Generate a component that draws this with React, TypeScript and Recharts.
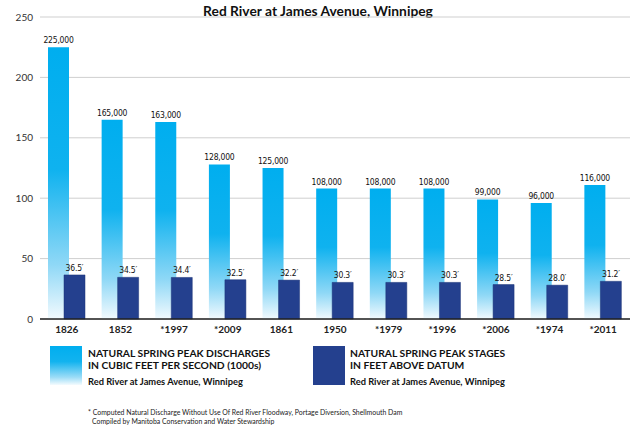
import React from 'react';
import { BarChart, Bar, XAxis, YAxis, CartesianGrid, LabelList } from 'recharts';

const years = ['1826', '1852', '*1997', '*2009', '1861', '1950', '*1979', '*1996', '*2006', '*1974', '*2011'];
const discharge = [225, 165, 163, 128, 125, 108, 108, 108, 99, 96, 111];
const dischargeLabels = ['225,000', '165,000', '163,000', '128,000', '125,000', '108,000', '108,000', '108,000', '99,000', '96,000', '116,000'];
const stage = [36.5, 34.5, 34.4, 32.5, 32.2, 30.3, 30.3, 30.3, 28.5, 28.0, 31.2];
const yTicks = [0, 50, 100, 150, 200, 250];

const chartData = years.map((year, i) => ({
  year,
  discharge: discharge[i],
  dischargeLabel: dischargeLabels[i],
  stage: stage[i],
  stageLabel: stage[i].toFixed(1) + '\u2032',
}));

const CYAN = '#00aeef';
const NAVY = '#24408e';
const FONT = 'Lato, "Open Sans", sans-serif';
const NARROW = '"Liberation Sans Narrow", "DejaVu Sans Condensed", sans-serif';

const labelStyle = { fill: '#111', fontSize: 8.5, fontFamily: NARROW, letterSpacing: -0.2 };

export default function App() {
  return (
    <div style={{ position: 'absolute', left: 0, top: 0, width: 640, height: 442, background: '#fff', fontFamily: FONT, color: '#111' }}>
      <div style={{ position: 'absolute', left: 0, top: 2, width: 636, textAlign: 'center', fontWeight: 700, fontSize: 13.8 }}>
        Red River at James Avenue, Winnipeg
      </div>
      <BarChart
        width={640}
        height={345}
        data={chartData}
        margin={{ top: 17, right: 10, left: -3, bottom: 0 }}
        barSize={21}
        barGap={-5}
      >
        <defs>
          <linearGradient id="cyanFade" x1="0" y1="0" x2="0" y2="1">
            <stop offset="0%" stopColor={CYAN} />
            <stop offset="45%" stopColor="#0fb2ef" />
            <stop offset="80%" stopColor="#8fd8f6" />
            <stop offset="100%" stopColor="#f2fafe" />
          </linearGradient>
        </defs>
        <CartesianGrid stroke="#cfcfcf" vertical={false} />
        <XAxis
          dataKey="year"
          height={26}
          stroke="#222"
          strokeWidth={1.5}
          tickLine={false}
          tick={{ fill: '#222', fontSize: 10, fontWeight: 700 }}
          tickMargin={1}
        />
        <YAxis
          width={43}
          domain={[0, 250]}
          ticks={yTicks}
          axisLine={false}
          tickLine={false}
          tickMargin={1}
          tick={{ fill: '#333', fontSize: 10 }}
        />
        <Bar dataKey="discharge" fill="url(#cyanFade)" isAnimationActive={false}>
          <LabelList dataKey="dischargeLabel" position="top" offset={4} style={labelStyle} />
        </Bar>
        <Bar dataKey="stage" fill={NAVY} stroke="#1b3276" strokeWidth={0.5} isAnimationActive={false}>
          <LabelList dataKey="stageLabel" position="top" offset={4} style={labelStyle} />
        </Bar>
      </BarChart>

      <div style={{ position: 'absolute', left: 50, top: 346, width: 32, height: 39, background: 'linear-gradient(#00aeef 0%, #12b3ef 40%, #9bdcf7 80%, #f4fbfe 100%)' }} />
      <div style={{ position: 'absolute', left: 88, top: 347, lineHeight: '12px' }}>
        <div style={{ fontWeight: 700, fontSize: 10.3 }}>NATURAL SPRING PEAK DISCHARGES</div>
        <div style={{ fontWeight: 700, fontSize: 10.3 }}>IN CUBIC FEET PER SECOND (1000s)</div>
        <div style={{ fontWeight: 700, fontSize: 9.3, marginTop: 5 }}>Red River at James Avenue, Winnipeg</div>
      </div>

      <div style={{ position: 'absolute', left: 313, top: 346, width: 32, height: 39, background: NAVY }} />
      <div style={{ position: 'absolute', left: 350, top: 347, lineHeight: '12px' }}>
        <div style={{ fontWeight: 700, fontSize: 10.3 }}>NATURAL SPRING PEAK STAGES</div>
        <div style={{ fontWeight: 700, fontSize: 10.3 }}>IN FEET ABOVE DATUM</div>
        <div style={{ fontWeight: 700, fontSize: 9.3, marginTop: 5 }}>Red River at James Avenue, Winnipeg</div>
      </div>

      <div style={{ position: 'absolute', left: 88, top: 408, fontSize: 6.9, lineHeight: '8.5px', color: '#222' }}>
        <div>* Computed Natural Discharge Without Use Of Red River Floodway, Portage Diversion, Shellmouth Dam</div>
        <div style={{ paddingLeft: 4 }}>Compiled by Manitoba Conservation and Water Stewardship</div>
      </div>
    </div>
  );
}
